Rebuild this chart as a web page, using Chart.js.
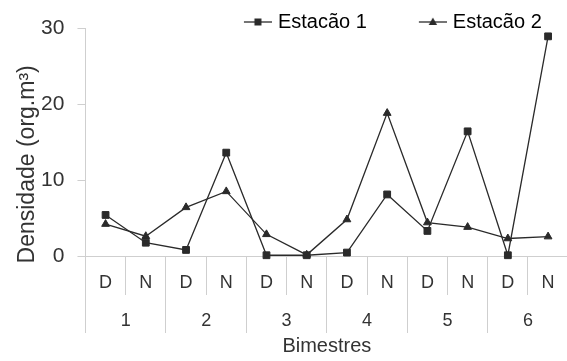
<!DOCTYPE html>
<html>
<head>
<meta charset="utf-8">
<script src="https://cdn.jsdelivr.net/npm/chart.js@4/dist/chart.umd.min.js"></script>
<style>
  html, body { margin: 0; padding: 0; background: #fff; overflow: hidden; }
  #wrap { width: 574px; height: 361px; }
</style>
</head>
<body>
<div id="wrap"><canvas id="densChart" width="574" height="361"></canvas></div>
<script>
// Data
const periods = ["D", "N", "D", "N", "D", "N", "D", "N", "D", "N", "D", "N"];
const bimestres = ["1", "2", "3", "4", "5", "6"];
const estacao1 = [5.4, 1.75, 0.8, 13.6, 0.1, 0.1, 0.45, 8.1, 3.3, 16.4, 0.1, 28.9];
const estacao2 = [4.2, 2.6, 6.4, 8.5, 2.85, 0.15, 4.8, 18.8, 4.4, 3.8, 2.3, 2.55];
const yTicks = [0, 10, 20, 30];

const ink = "#2a2a2a";
const textColor = "#333";
const axisGrey = "#cfcfcf";
const font = "Liberation Sans, Arial, sans-serif";

// legend swatch: short line with the marker on it
function swatch(shape) {
  const c = document.createElement("canvas");
  c.width = 74;
  c.height = 20;
  const g = c.getContext("2d");
  g.strokeStyle = ink;
  g.lineWidth = 1.3;
  g.beginPath();
  g.moveTo(46, 10);
  g.lineTo(74, 10);
  g.stroke();
  g.fillStyle = ink;
  g.beginPath();
  if (shape === "rect") {
    g.rect(56.5, 6.5, 7, 7);
  } else {
    g.moveTo(60, 5.5);
    g.lineTo(64.2, 13);
    g.lineTo(55.8, 13);
    g.closePath();
  }
  g.fill();
  return c;
}

const legendNames = ["Estação 1", "Estação 2    "];
const legendShapes = [swatch("rect"), swatch("triangle")];

const ctx = document.getElementById("densChart").getContext("2d");

new Chart(ctx, {
  type: "line",
  data: {
    labels: periods,
    datasets: [
      {
        label: "Estação 1",
        data: estacao1,
        borderColor: ink,
        backgroundColor: ink,
        borderWidth: 1.3,
        pointStyle: "rect",
        pointRadius: 4.8,
        pointBorderWidth: 1,
        tension: 0,
        clip: false
      },
      {
        label: "Estação 2",
        data: estacao2,
        borderColor: ink,
        backgroundColor: ink,
        borderWidth: 1.3,
        pointStyle: "triangle",
        pointRadius: 4.5,
        pointBorderWidth: 1,
        tension: 0,
        clip: false
      }
    ]
  },
  options: {
    responsive: false,
    animation: false,
    layout: { padding: { top: 2, left: 2, right: 0, bottom: 0 } },
    plugins: {
      tooltip: { enabled: false },
      legend: {
        position: "top",
        align: "end",
        maxHeight: 26,
        labels: {
          usePointStyle: true,
          pointStyleWidth: 66,
          padding: 10,
          color: textColor,
          font: { family: font, size: 20 },
          generateLabels: chart =>
            chart.data.datasets.map((ds, i) => ({
              text: legendNames[i],
              pointStyle: legendShapes[i],
              fillStyle: ink,
              strokeStyle: ink,
              lineWidth: 0,
              hidden: false,
              datasetIndex: i
            }))
        }
      }
    },
    scales: {
      x: {
        type: "category",
        position: "bottom",
        weight: 0,
        offset: true,
        grid: {
          offset: true,
          drawOnChartArea: false,
          tickLength: 39,
          color: axisGrey
        },
        border: { color: axisGrey },
        ticks: {
          crossAlign: "center",
          padding: -11.5,
          color: textColor,
          maxRotation: 0,
          autoSkip: false,
          font: { family: font, size: 18 }
        }
      },
      x2: {
        type: "category",
        position: "bottom",
        weight: 1,
        labels: bimestres,
        offset: true,
        grid: {
          offset: true,
          drawOnChartArea: false,
          tickLength: 39.4,
          color: axisGrey
        },
        border: { display: false },
        ticks: {
          padding: -22.8,
          color: textColor,
          maxRotation: 0,
          autoSkip: false,
          font: { family: font, size: 18 }
        },
        title: {
          display: true,
          text: "Bimestres",
          color: textColor,
          padding: { top: 25, bottom: 3 },
          font: { family: font, size: 20 }
        }
      },
      y: {
        min: 0,
        max: 30,
        afterBuildTicks: axis => {
          axis.ticks = yTicks.map(v => ({ value: v }));
        },
        grid: {
          drawOnChartArea: false,
          tickLength: 8,
          color: axisGrey
        },
        border: { color: axisGrey },
        ticks: {
          padding: 13,
          color: textColor,
          font: { family: font, size: 21 }
        },
        title: {
          display: true,
          text: "Densidade (org.m³)       ",
          color: textColor,
          padding: { top: 12, bottom: -13.5 },
          font: { family: font, size: 23 }
        }
      }
    }
  }
});
</script>
</body>
</html>
